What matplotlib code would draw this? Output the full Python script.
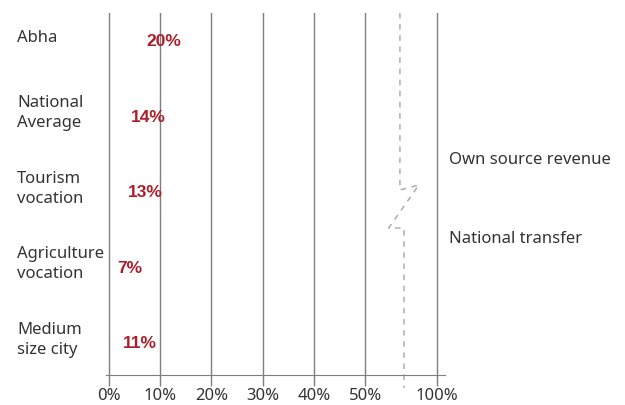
import matplotlib.pyplot as plt
import matplotlib.transforms as mtransforms

# Datos: porcentaje de ingresos propios por grupo
categorias = ["Abha", "National\nAverage", "Tourism\nvocation", "Agriculture\nvocation", "Medium\nsize city"]
ingresos_propios = [20, 14, 13, 7, 11]
ticks_x = [0, 10, 20, 30, 40, 50, 64]          # 100% se dibuja tras el corte del eje
etiquetas_x = ["0%", "10%", "20%", "30%", "40%", "50%", "100%"]
series = ["Own source revenue", "National transfer"]

plt.rcParams['font.family'] = ['Noto Sans', 'DejaVu Sans']
gris_texto = "#333333"
rojo = "#ab1f2b"
tam = 12

fig = plt.figure(figsize=(6.25, 4.05), dpi=100)
ax = fig.add_axes([106/625, 1 - 375/405, (445 - 106)/625, (375 - 13)/405])

pos_y = list(range(len(categorias)))

# Barras invisibles (sin relleno), solo se ven las etiquetas
ax.barh(pos_y, ingresos_propios, height=0.5, color="none")
for y, v in zip(pos_y, ingresos_propios):
    ax.text(v / 2 + 0.6, y + 0.02, f"{v}%", color=rojo, fontsize=12.5, fontweight="bold",
            family=['Liberation Sans', 'DejaVu Sans'], ha="center", va="center")

ax.set_ylim(4.437, -0.358)
ax.set_xlim(-0.6, 65.6)

# lineas verticales de la cuadricula
for t in ticks_x:
    ax.axvline(t, color="#7f7f7f", lw=1.0, zorder=0)

ax.set_xticks(ticks_x)
ax.set_xticklabels(etiquetas_x, fontsize=tam, color=gris_texto)
ax.tick_params(axis="x", length=8, width=1, color="#7f7f7f", pad=1)
ax.set_yticks([])
for s in ["top", "right", "left"]:
    ax.spines[s].set_visible(False)
ax.spines["bottom"].set_color("#7f7f7f")

# Nombres de las categorias a la izquierda
trans = mtransforms.blended_transform_factory(fig.transFigure, ax.transData)
for y, nombre in zip(pos_y, categorias):
    ax.text(17/625, y - 0.03, nombre, transform=trans, fontsize=tam, color=gris_texto,
            ha="left", va="center", linespacing=1.35)

# Linea discontinua del corte del eje
tr_b = mtransforms.blended_transform_factory(ax.transData, ax.transAxes)
corte_x = [56.8, 56.8, 60.5, 54.6, 57.6, 57.6]
corte_y = [1.0, 0.511, 0.525, 0.406, 0.406, -0.036]
ax.plot(corte_x, corte_y, transform=tr_b, color="#a6a6a6", lw=1.0,
        ls=(0, (4, 4)), clip_on=False)

# Leyenda como texto
fig.text(449/625, 1 - 160/405, series[0], fontsize=tam, color=gris_texto, va="center")
fig.text(449/625, 1 - 239/405, series[1], fontsize=tam, color=gris_texto, va="center")

plt.savefig("out.png", dpi=100)
